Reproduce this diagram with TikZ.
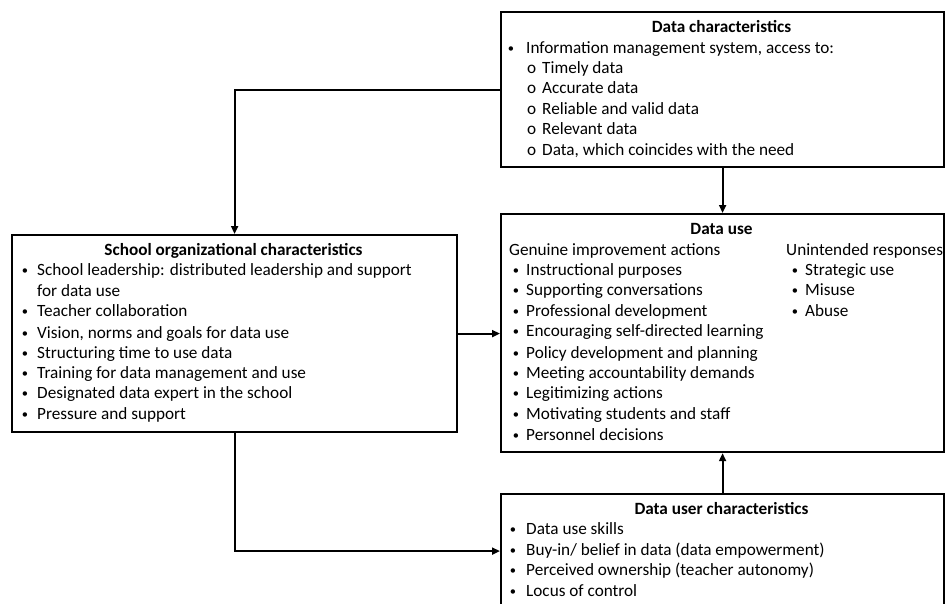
\documentclass[tikz,border=0pt]{standalone}
\usepackage{fontspec}
\setmainfont{Carlito}
\usetikzlibrary{arrows.meta}
\begin{document}
\begin{tikzpicture}[x=1pt,y=1pt,
  box/.style={draw, line width=2.2pt, inner sep=0pt, anchor=north west},
  conn/.style={line width=2.2pt, -{Triangle[length=8pt,width=7pt]}},
  txt/.style={anchor=base west, inner sep=0pt, font=\fontsize{17.2}{20}\selectfont},
  bul/.style={anchor=base, inner sep=0pt, font=\fontsize{12.5}{20}\selectfont, yshift=1pt},
  ttl/.style={anchor=base, inner sep=0pt, font=\fontsize{17.2}{20}\selectfont\bfseries}]
\useasboundingbox (0,0) rectangle (947,-603);
\clip (0,0) rectangle (947,-603);

% frames
\node[box, minimum width=443pt, minimum height=155pt] (dc)  at (500,-11)  {};
\node[box, minimum width=443pt, minimum height=238pt] (du)  at (500,-213) {};
\node[box, minimum width=445pt, minimum height=197pt] (soc) at (11,-234)  {};
\node[box, minimum width=443pt, minimum height=114pt] (duc) at (500,-493) {};

% Data characteristics
\node[ttl] (dc-t) at (721.5,-32) {Data characteristics};
\node[bul] (dc-b) at (511,-53) {•};
\node[txt] (dc-1) at (526,-53) {Information management system, access to:};
\foreach \y/\t [count=\i] in {73/Timely data, 93/Accurate data, 114/Reliable and valid data,
    134/Relevant data, 155/{Data, which coincides with the need}} {
  \node[txt] (dc-o\i) at (527,-\y) {o};
  \node[txt] (dc-s\i) at (542,-\y) {\t};
}

% School organizational characteristics
\node[ttl] (soc-t) at (233.5,-255) {School organizational characteristics};
\node[txt] (soc-1b) at (37,-296) {for data use};
\foreach \y/\t [count=\i] in {275/{School leadership: distributed leadership and support},
    316/Teacher collaboration, 338/{Vision, norms and goals for data use},
    358/Structuring time to use data, 378/Training for data management and use,
    398/Designated data expert in the school, 419/Pressure and support} {
  \node[bul] (soc-b\i) at (25,-\y) {•};
  \node[txt] (soc-\i) at (37,-\y) {\t};
}

% Data use
\node[ttl] (du-t) at (721.5,-234) {Data use};
\node[txt] (du-g) at (509,-255) {Genuine improvement actions};
\node[txt] (du-u) at (786,-255) {Unintended responses};
\foreach \y/\t [count=\i] in {275/Instructional purposes, 295/Supporting conversations,
    316/Professional development, 336/Encouraging self-directed learning,
    358/Policy development and planning, 378/Meeting accountability demands,
    398/Legitimizing actions, 419/Motivating students and staff, 440/Personnel decisions} {
  \node[bul] (du-gb\i) at (516,-\y) {•};
  \node[txt] (du-g\i) at (526,-\y) {\t};
}
\foreach \y/\t [count=\i] in {275/Strategic use, 295/Misuse, 316/Abuse} {
  \node[bul] (du-ub\i) at (795,-\y) {•};
  \node[txt] (du-u\i) at (805,-\y) {\t};
}

% Data user characteristics
\node[ttl] (duc-t) at (721.5,-514) {Data user characteristics};
\foreach \y/\t [count=\i] in {534/Data use skills, 555/{Buy-in/ belief in data (data empowerment)},
    575/Perceived ownership (teacher autonomy), 596/Locus of control} {
  \node[bul] (duc-b\i) at (513,-\y) {•};
  \node[txt] (duc-\i) at (526,-\y) {\t};
}

% connectors
\draw[conn] (dc.west) -| (soc.north);
\draw[conn] (dc.south) -- (du.north);
\draw[conn] (soc.east) -- (soc.east -| du.west);
\draw[conn] (soc.south) |- (duc.west);
\draw[conn] (duc.north) -- (du.south);
\end{tikzpicture}
\end{document}
